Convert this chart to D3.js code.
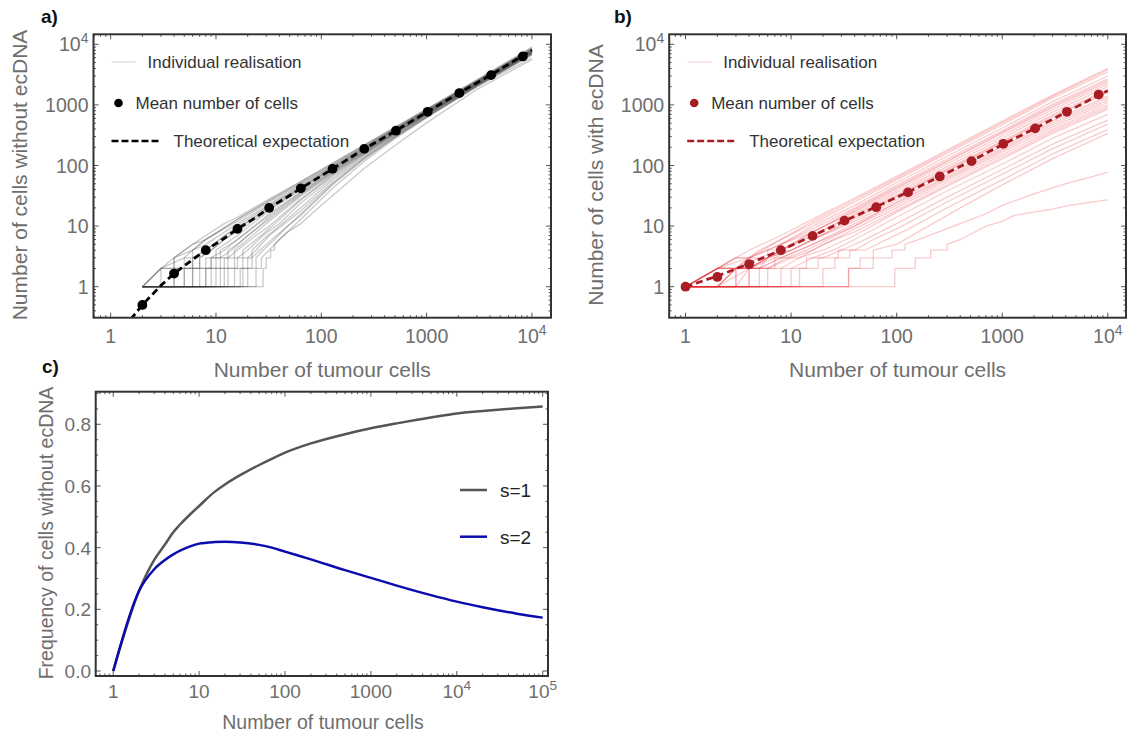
<!DOCTYPE html>
<html><head><meta charset="utf-8">
<script src="https://cdn.jsdelivr.net/npm/d3@7"></script>
<style>body{margin:0;background:#fff}svg{display:block}text{font-family:"Liberation Sans",Arial,Helvetica,sans-serif}</style>
</head><body><svg id="c" width="1131" height="738"></svg>
<script>
// ---------------- DATA ----------------
const decadeTicks = [1, 10, 100, 1000, 10000];
const decadeLabels = ["1", "10", "100", "1000", "10^4"];
const cXTicks = [1, 10, 100, 1000, 10000, 100000];
const cXLabels = ["1", "10", "100", "1000", "10^4", "10^5"];
const cYTicks = [0, 0.2, 0.4, 0.6, 0.8];
const cYLabels = ["0.0", "0.2", "0.4", "0.6", "0.8"];

// panel a: cells without ecDNA
const meanNA = [2, 4, 8, 16, 32, 64, 128, 256, 512, 1024, 2048, 4096, 8192];
const meanA = [0.5, 1.65, 4.0, 9.0, 20, 42, 88, 188, 375, 770, 1570, 3100, 6300];
const theoryNA = [1.55, 2, 3, 4, 6, 8, 12, 16, 24, 32, 48, 64, 128, 256, 512, 1024, 2048, 4096, 10000];
const theoryA = [0.29, 0.5, 1.05, 1.65, 2.8, 4.0, 6.3, 9.0, 14, 20, 30.5, 42, 88, 188, 378, 775, 1580, 3150, 8000];
const realisationsA = [
  [[2,1],[3,2],[4,3],[6,5],[8,7],[12,11],[16,14],[32,28],[64,55],[128,110],[256,220],[512,440],[1024,880],[3000,2600],[10000,9000]],
  [[2,1],[3,2],[5,3],[6,4],[8,6],[16,13],[32,27],[64,54],[128,108],[256,215],[512,430],[1024,860],[3000,2550],[10000,8700]],
  [[2,1],[3,1],[3,2],[4,2],[4,3],[6,5],[8,6],[16,13],[32,26],[64,52],[128,104],[256,210],[512,420],[1024,850],[3000,2500],[10000,8500]],
  [[2,1],[3,2],[4,2],[4,3],[6,4],[8,6],[16,12],[32,25],[64,50],[128,100],[256,205],[512,415],[1024,835],[3000,2480],[10000,8350]],
  [[2,1],[4,1],[4,2],[5,2],[5,3],[6,3],[6,4],[8,5],[16,11],[32,23],[64,48],[128,98],[256,200],[512,405],[1024,820],[3000,2450],[10000,8200]],
  [[2,1],[4,1],[4,2],[6,2],[6,3],[8,4],[16,10],[32,22],[64,46],[128,95],[256,195],[512,398],[1024,805],[3000,2420],[10000,8100]],
  [[2,1],[5,1],[5,2],[6,2],[6,3],[8,4],[12,7],[16,9],[32,21],[64,44],[128,92],[256,190],[512,390],[1024,790],[3000,2380],[10000,8000]],
  [[2,1],[5,1],[5,2],[7,2],[7,3],[9,4],[12,6],[16,9],[32,20],[64,43],[128,90],[256,188],[512,385],[1024,785],[3000,2360],[10000,7950]],
  [[2,1],[6,1],[6,2],[7,2],[7,3],[9,4],[12,6],[16,8],[32,19],[64,42],[128,88],[256,185],[512,380],[1024,780],[3000,2350],[10000,7900]],
  [[2,1],[6,1],[6,2],[8,2],[8,3],[10,3],[10,4],[12,5],[16,7],[32,18],[64,40],[128,86],[256,180],[512,375],[1024,770],[3000,2320],[10000,7800]],
  [[2,1],[7,1],[7,2],[9,2],[9,3],[11,3],[11,4],[16,6],[32,16],[64,37],[128,82],[256,174],[512,365],[1024,755],[3000,2280],[10000,7650]],
  [[2,1],[8,1],[8,2],[9,2],[9,3],[12,4],[16,6],[32,15],[64,36],[128,80],[256,172],[512,360],[1024,745],[3000,2260],[10000,7550]],
  [[2,1],[8,1],[8,2],[10,2],[10,3],[13,3],[13,4],[16,5],[24,9],[32,14],[64,34],[128,78],[256,168],[512,356],[1024,740],[3000,2240],[10000,7500]],
  [[2,1],[9,1],[9,2],[11,2],[11,3],[14,4],[20,7],[32,13],[64,33],[128,76],[256,165],[512,350],[1024,730],[3000,2220],[10000,7400]],
  [[2,1],[10,1],[10,2],[12,2],[12,3],[15,3],[15,4],[20,6],[32,12],[64,31],[128,73],[256,162],[512,346],[1024,720],[3000,2200],[10000,7350]],
  [[2,1],[11,1],[11,2],[13,2],[13,3],[16,4],[24,7],[32,10],[64,28],[128,70],[256,158],[512,340],[1024,710],[3000,2170],[10000,7250]],
  [[2,1],[12,1],[12,2],[15,2],[15,3],[18,3],[18,4],[24,6],[32,9],[64,27],[128,67],[256,155],[512,335],[1024,700],[3000,2150],[10000,7200]],
  [[2,1],[13,1],[13,2],[16,2],[16,3],[20,4],[28,7],[40,11],[64,24],[128,62],[256,150],[512,325],[1024,690],[3000,2120],[10000,7100]],
  [[2,1],[15,1],[15,2],[18,2],[18,3],[22,3],[22,4],[28,6],[40,10],[64,20],[128,58],[256,142],[512,318],[1024,675],[3000,2100],[10000,7000]],
  [[2,1],[17,1],[17,2],[20,2],[20,3],[24,4],[32,7],[48,12],[64,18],[128,53],[256,135],[512,308],[1024,660],[3000,2060],[10000,6900]],
  [[2,1],[18,1],[18,2],[22,2],[22,3],[26,4],[34,6],[48,10],[64,16],[128,50],[256,132],[512,300],[1024,650],[3000,2040],[10000,6700]],
  [[2,1],[20,1],[20,2],[24,2],[24,3],[28,4],[36,6],[48,10],[64,15],[128,48],[256,128],[512,298],[1024,645],[3000,2030],[10000,6800]],
  [[2,1],[24,1],[24,2],[27,2],[27,3],[32,4],[40,6],[64,13],[128,42],[256,118],[512,285],[1024,625],[3000,1980],[10000,6000]],
  [[2,1],[28,1],[28,2],[30,2],[30,3],[33,3],[33,4],[36,4],[36,5],[40,6],[48,8],[64,11],[100,22],[150,40],[256,90],[512,220],[1024,520],[3000,1800],[10000,5600]]
];

// panel b: cells with ecDNA
const meanNB = [1, 2, 4, 8, 16, 32, 64, 128, 256, 512, 1024, 2048, 4096, 8192];
const meanB = [1, 1.45, 2.35, 4.0, 6.9, 12.3, 20.5, 36, 66, 118, 228, 410, 770, 1480];
const theoryNB = [1, 2, 4, 8, 16, 32, 64, 128, 256, 512, 1024, 2048, 4096, 10000];
const theoryB = [1, 1.5, 2.4, 4.0, 6.9, 12.2, 20.8, 36.5, 66, 119, 225, 410, 770, 1720];
const realisationsB = [
  [[1,1],[2,2],[3,3],[4,4],[8,7],[16,13],[40,29],[100,66],[300,180],[1000,540],[3000,1450],[10000,4000]],
  [[1,1],[2,2],[3,3],[4,3],[8,6],[16,12],[40,27],[100,62],[300,170],[1000,505],[3000,1380],[10000,3800]],
  [[1,1],[2,2],[3,3],[4,3],[5,4],[8,6],[16,11],[40,25],[100,58],[300,160],[1000,470],[3000,1300],[10000,3500]],
  [[1,1],[2,2],[3,2],[4,3],[6,4],[8,5],[16,10],[40,22],[100,52],[300,142],[1000,415],[3000,1130],[10000,3000]],
  [[1,1],[2,1],[3,2],[4,3],[8,5],[16,9],[40,20],[100,47],[300,128],[1000,375],[3000,1020],[10000,2700]],
  [[1,1],[2,2],[3,2],[4,2],[6,3],[8,4],[16,8],[40,19],[100,44],[300,120],[1000,355],[3000,960],[10000,2550]],
  [[1,1],[2,2],[4,3],[6,3],[6,4],[8,4],[8,5],[16,8],[40,18],[100,42],[300,115],[1000,340],[3000,910],[10000,2400]],
  [[1,1],[2,1],[3,2],[5,2],[6,3],[8,4],[16,8],[40,17],[100,39],[300,106],[1000,310],[3000,840],[10000,2200]],
  [[1,1],[2,2],[3,2],[5,3],[8,4],[16,7],[40,16],[100,36],[300,96],[1000,282],[3000,760],[10000,2000]],
  [[1,1],[2,1],[4,2],[6,3],[8,4],[16,7],[40,15],[100,33],[300,88],[1000,255],[3000,690],[10000,1800]],
  [[1,1],[2,1],[3,2],[4,2],[6,3],[10,4],[16,6],[40,14],[100,31],[300,84],[1000,243],[3000,650],[10000,1700]],
  [[1,1],[2,1],[3,1],[4,2],[7,3],[10,4],[16,6],[40,13],[100,30],[300,80],[1000,232],[3000,620],[10000,1600]],
  [[1,1],[2,2],[4,2],[6,3],[10,4],[16,6],[40,12],[100,27],[300,71],[1000,205],[3000,545],[10000,1400]],
  [[1,1],[3,1],[3,2],[6,2],[9,3],[14,4],[40,10],[100,25],[300,66],[1000,190],[3000,505],[10000,1300]],
  [[1,1],[2,1],[4,1],[4,2],[5,2],[8,3],[12,4],[16,5],[40,11],[100,24],[300,62],[1000,178],[3000,470],[10000,1200]],
  [[1,1],[2,1],[3,1],[3,2],[5,2],[8,3],[16,5],[40,10],[100,22],[300,58],[1000,165],[3000,435],[10000,1100]],
  [[1,1],[2,1],[5,1],[5,2],[6,2],[10,3],[16,4],[40,9],[100,20],[300,53],[1000,150],[3000,395],[10000,1000]],
  [[1,1],[4,1],[4,2],[7,2],[7,3],[12,3],[20,5],[40,8],[100,18],[300,48],[1000,137],[3000,365],[10000,920]],
  [[1,1],[2,1],[6,1],[6,2],[8,2],[12,3],[20,4],[40,7],[100,17],[300,45],[1000,128],[3000,340],[10000,850]],
  [[1,1],[8,1],[8,2],[10,2],[16,3],[25,4],[40,6],[100,14],[300,38],[1000,106],[3000,282],[10000,700]],
  [[1,1],[10,1],[10,2],[14,2],[14,3],[20,3],[30,4],[50,6],[100,11],[300,30],[1000,86],[3000,225],[10000,560]],
  [[1,1],[12,1],[12,2],[18,2],[18,3],[28,3],[28,4],[40,4],[60,6],[100,9],[300,25],[1000,72],[3000,190],[10000,480]],
  [[1,1],[20,1],[20,2],[26,2],[26,3],[36,3],[36,4],[50,4],[80,6],[130,9],[300,20],[1000,58],[3000,155],[10000,390]],
  [[1,1],[35,1],[35,2],[45,2],[45,3],[60,3],[60,4],[100,5],[200,10],[400,20],[1000,48],[3000,130],[10000,340]],
  [[1,1],[35,1],[35,2],[60,2],[60,3],[90,3],[90,4],[120,4],[120,5],[160,6],[250,8],[400,11],[700,16],[1000,22],[2000,34],[4000,50],[7000,65],[10000,78]],
  [[1,1],[96,1],[96,2],[150,2],[150,3],[210,3],[210,4],[300,4],[300,5],[400,6],[550,8],[700,10],[1000,12],[1300,15],[2000,17],[3000,19],[4300,22],[6000,24],[10000,27]]
];

// panel c: frequency of cells without ecDNA
const nC = [1, 2, 3, 4, 5, 6, 8, 10, 15, 20, 30, 50, 70, 100, 200, 500, 1000, 2000, 5000, 10000, 20000, 50000, 100000];
const freqS1 = [0, 0.26, 0.36, 0.41, 0.45, 0.475, 0.51, 0.535, 0.58, 0.605, 0.635, 0.668, 0.688, 0.708, 0.738, 0.768, 0.787, 0.803, 0.822, 0.835, 0.843, 0.852, 0.858];
const freqS2 = [0, 0.26, 0.33, 0.36, 0.378, 0.39, 0.405, 0.413, 0.418, 0.419, 0.417, 0.409, 0.400, 0.387, 0.362, 0.327, 0.302, 0.277, 0.246, 0.225, 0.207, 0.186, 0.173];
const seriesC = ["s=1", "s=2"];

// ---------------- DRAW ----------------
const svg = d3.select("#c");
svg.append("rect").attr("width", 1131).attr("height", 738).attr("fill", "#fff");
const TXT = "#6e6e6e";

function logMinor(d0, d1) {
  const out = [];
  for (let e = -2; e <= 6; e++) for (let k = 2; k <= 9; k++) {
    const v = k * Math.pow(10, e);
    if (v > d0 && v < d1) out.push(v);
  }
  return out;
}

function label(g, txt, x, y, anchor, size, fill) {
  const t = g.append("text").attr("x", x).attr("y", y).attr("text-anchor", anchor)
    .attr("font-size", size).attr("fill", fill || TXT);
  if (txt.indexOf("^") >= 0) {
    const p = txt.split("^");
    t.append("tspan").text(p[0]);
    t.append("tspan").attr("dy", -size * 0.42).attr("font-size", size * 0.72).text(p[1]);
  } else t.text(txt);
  return t;
}

function frame(g, x, y, xMaj, xMin, yMaj, yMin) {
  const [x0, x1] = x.range(), [yb, yt] = y.range();
  const tick = (x1_, y1_, x2_, y2_) => g.append("line").attr("x1", x1_).attr("y1", y1_).attr("x2", x2_).attr("y2", y2_)
    .attr("stroke", "#555").attr("stroke-width", 1);
  xMaj.forEach(v => { tick(x(v), yb, x(v), yb - 5); tick(x(v), yt, x(v), yt + 5); });
  xMin.forEach(v => { tick(x(v), yb, x(v), yb - 2.5); tick(x(v), yt, x(v), yt + 2.5); });
  yMaj.forEach(v => { tick(x0, y(v), x0 + 5, y(v)); tick(x1, y(v), x1 - 5, y(v)); });
  yMin.forEach(v => { tick(x0, y(v), x0 + 2.5, y(v)); tick(x1, y(v), x1 - 2.5, y(v)); });
  g.append("rect").attr("x", x0).attr("y", yt).attr("width", x1 - x0).attr("height", yb - yt)
    .attr("fill", "none").attr("stroke", "#333").attr("stroke-width", 2);
}

function clip(id, x, y) {
  const [x0, x1] = x.range(), [yb, yt] = y.range();
  svg.append("clipPath").attr("id", id).append("rect").attr("x", x0).attr("y", yt).attr("width", x1 - x0).attr("height", yb - yt);
}

function logPanel(cfg) {
  const g = svg.append("g");
  const x = d3.scaleLog().domain(cfg.xDom).range(cfg.xRange);
  const y = d3.scaleLog().domain(cfg.yDom).range(cfg.yRange);
  clip(cfg.id, x, y);
  const plot = g.append("g").attr("clip-path", `url(#${cfg.id})`);
  const line = d3.line().x(d => x(d[0])).y(d => y(d[1]));
  plot.selectAll("path.r").data(cfg.real).join("path").attr("class", "r")
    .attr("d", line).attr("fill", "none").attr("stroke", cfg.realColor)
    .attr("stroke-opacity", cfg.realOpacity).attr("stroke-width", 1.3).attr("stroke-linejoin", "round");
  plot.append("path").attr("d", line(cfg.thN.map((n, i) => [n, cfg.th[i]])))
    .attr("fill", "none").attr("stroke", cfg.meanColor).attr("stroke-width", 2.8).attr("stroke-dasharray", "7,4");
  plot.selectAll("circle.m").data(cfg.meanN.map((n, i) => [n, cfg.mean[i]])).join("circle").attr("class", "m")
    .attr("cx", d => x(d[0])).attr("cy", d => y(d[1])).attr("r", 4.9).attr("fill", cfg.meanColor);

  frame(g, x, y, decadeTicks.filter(v => v >= cfg.xDom[0]), logMinor(cfg.xDom[0], cfg.xDom[1]),
        decadeTicks, logMinor(cfg.yDom[0], cfg.yDom[1]));

  decadeTicks.forEach((v, i) => {
    label(g, decadeLabels[i], x(v), cfg.yRange[0] + 25, "middle", 19.5);
    label(g, decadeLabels[i], cfg.xRange[0] - 5, y(v) + 7, "end", 19.5);
  });
  label(g, "Number of tumour cells", (cfg.xRange[0] + cfg.xRange[1]) / 2, 377, "middle", 21);
  g.append("text").attr("transform", `translate(${cfg.yTitleX},175) rotate(-90)`).attr("text-anchor", "middle")
    .attr("dy", "0.35em").attr("font-size", 21).attr("fill", TXT).text(cfg.yTitle);
  g.append("text").attr("x", cfg.letterX).attr("y", 23).attr("font-size", 19).attr("font-weight", "bold")
    .attr("fill", "#111").text(cfg.letter);

  const lx = cfg.xRange[0] + 18;
  const lg = g.append("g");
  lg.append("line").attr("x1", lx).attr("x2", lx + 24).attr("y1", 62).attr("y2", 62)
    .attr("stroke", cfg.realColor).attr("stroke-opacity", 0.18).attr("stroke-width", 1.3);
  label(lg, "Individual realisation", lx + 36, 68, "start", 17, "#333");
  lg.append("circle").attr("cx", lx + 7).attr("cy", 103).attr("r", 4.3).attr("fill", cfg.meanColor);
  label(lg, "Mean number of cells", lx + 24, 109, "start", 17, "#333");
  lg.append("line").attr("x1", lx).attr("x2", lx + 49).attr("y1", 141).attr("y2", 141)
    .attr("stroke", cfg.meanColor).attr("stroke-width", 2.6).attr("stroke-dasharray", "7,3");
  label(lg, "Theoretical expectation", lx + 62, 147, "start", 17, "#333");
}

logPanel({
  id: "ca", letter: "a)", letterX: 41,
  xDom: [0.687, 15180], xRange: [93.5, 551],
  yDom: [0.308, 14620], yRange: [317.7, 34.3],
  real: realisationsA, realColor: "#3a3a3a", realOpacity: 0.27,
  meanN: meanNA, mean: meanA, thN: theoryNA, th: theoryA, meanColor: "#000",
  yTitle: "Number of cells without ecDNA", yTitleX: 20
});
logPanel({
  id: "cb", letter: "b)", letterX: 614,
  xDom: [0.70, 14870], xRange: [669.2, 1126],
  yDom: [0.308, 14620], yRange: [317.7, 34.3],
  real: realisationsB, realColor: "#e8262e", realOpacity: 0.24,
  meanN: meanNB, mean: meanB, thN: theoryNB, th: theoryB, meanColor: "#a81c24",
  yTitle: "Number of cells with ecDNA", yTitleX: 596
});

// panel c
(function () {
  const g = svg.append("g");
  const x = d3.scaleLog().domain([0.625, 115300]).range([95.7, 548]);
  const y = d3.scaleLinear().domain([-0.0162, 0.9057]).range([676, 391.7]);
  clip("cc", x, y);
  const plot = g.append("g").attr("clip-path", "url(#cc)");
  const line = d3.line().curve(d3.curveMonotoneX).x(d => x(d[0])).y(d => y(d[1]));
  const colors = ["#555555", "#0b0bb0"];
  [freqS1, freqS2].forEach((s, i) => {
    plot.append("path").attr("d", line(nC.map((n, j) => [n, s[j]]))).attr("fill", "none")
      .attr("stroke", colors[i]).attr("stroke-width", 2.5).attr("stroke-linejoin", "round");
  });
  const yMin = [];
  for (let k = 1; k <= 18; k++) { const v = k * 0.05; if (Math.abs(v / 0.2 - Math.round(v / 0.2)) > 1e-6) yMin.push(v); }
  frame(g, x, y, cXTicks, logMinor(0.625, 115300), cYTicks, yMin);
  cXTicks.forEach((v, i) => label(g, cXLabels[i], x(v), 698, "middle", 19));
  cYTicks.forEach((v, i) => label(g, cYLabels[i], 91, y(v) + 7, "end", 19));
  label(g, "Number of tumour cells", 323, 729, "middle", 19.5);
  g.append("text").attr("transform", "translate(46,533) rotate(-90)").attr("text-anchor", "middle")
    .attr("dy", "0.35em").attr("font-size", 19.5).attr("fill", TXT).text("Frequency of cells without ecDNA");
  g.append("text").attr("x", 42).attr("y", 373).attr("font-size", 19).attr("font-weight", "bold")
    .attr("fill", "#111").text("c)");
  seriesC.forEach((s, i) => {
    const yy = 490 + i * 46.7;
    g.append("line").attr("x1", 460).attr("x2", 487).attr("y1", yy).attr("y2", yy)
      .attr("stroke", colors[i]).attr("stroke-width", 2.5);
    label(g, s, 500, yy + 7, "start", 19, "#222");
  });
})();
</script></body></html>
